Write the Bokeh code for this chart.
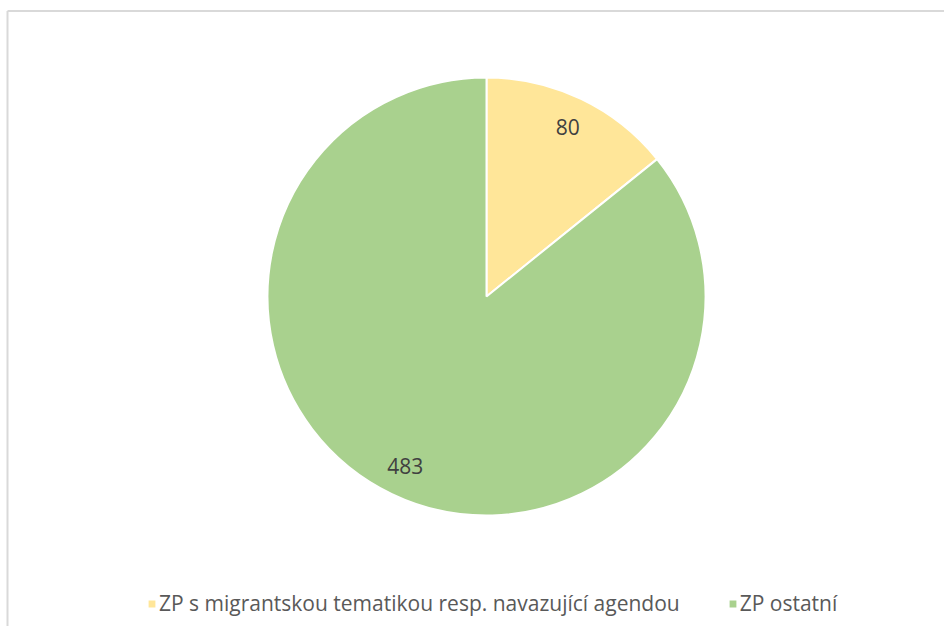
import math
from bokeh.plotting import figure
from bokeh.models import Range1d, ColumnDataSource, Legend, LegendItem
from bokeh.core.properties import value
from bokeh.embed import file_html
from bokeh.resources import INLINE

categories = ["ZP s migrantskou tematikou resp. navazující agendou", "ZP ostatní"]
values = [80, 483]
colors = ["#FFE699", "#A9D18E"]

W, H = 944, 626
cx, cy, R = 486, 330, 219

total = sum(values)
starts, ends, lx, ly, labels = [], [], [], [], []
a = math.pi / 2
for v in values:
    sweep = 2 * math.pi * v / total
    s, e = a - sweep, a
    starts.append(s)
    ends.append(e)
    mid = (s + e) / 2
    lx.append(cx + 0.86 * R * math.cos(mid))
    ly.append(cy + 0.86 * R * math.sin(mid))
    labels.append(str(v))
    a = s

src = ColumnDataSource(dict(cat=categories, val=values, color=colors,
                            start=starts, end=ends, lx=lx, ly=ly, lab=labels))

p = figure(width=W, height=H, output_backend="svg", toolbar_location=None,
           x_range=Range1d(0, W), y_range=Range1d(0, H), min_border=0,
           outline_line_color=None)
p.axis.visible = False
p.grid.visible = False
p.background_fill_color = "white"

# chart frame (left & top edges)
p.segment(x0=[7, 7], y0=[0, H - 10.5], x1=[7, W], y1=[H - 10.5, H - 10.5],
          line_color="#d9d9d9", line_width=2)

w = p.wedge(x=cx, y=cy, radius=R, start_angle="start", end_angle="end",
            fill_color="color", line_color="white", line_width=2, source=src)

p.text(x="lx", y="ly", text="lab", source=src, text_align="center",
       text_baseline="middle", text_font=value("Open Sans"), text_font_size="21px",
       text_color="#404040")

legend = Legend(items=[LegendItem(label=c, renderers=[w], index=i) for i, c in enumerate(categories)],
                orientation="horizontal", location=(146, 9),
                glyph_width=11, glyph_height=11, label_standoff=2, spacing=47,
                padding=0, margin=0, border_line_alpha=0, background_fill_alpha=0,
                label_text_font="Open Sans", label_text_font_size="21px",
                label_text_color="#595959")
p.add_layout(legend)

open("out.html", "w").write(file_html(p, INLINE))
